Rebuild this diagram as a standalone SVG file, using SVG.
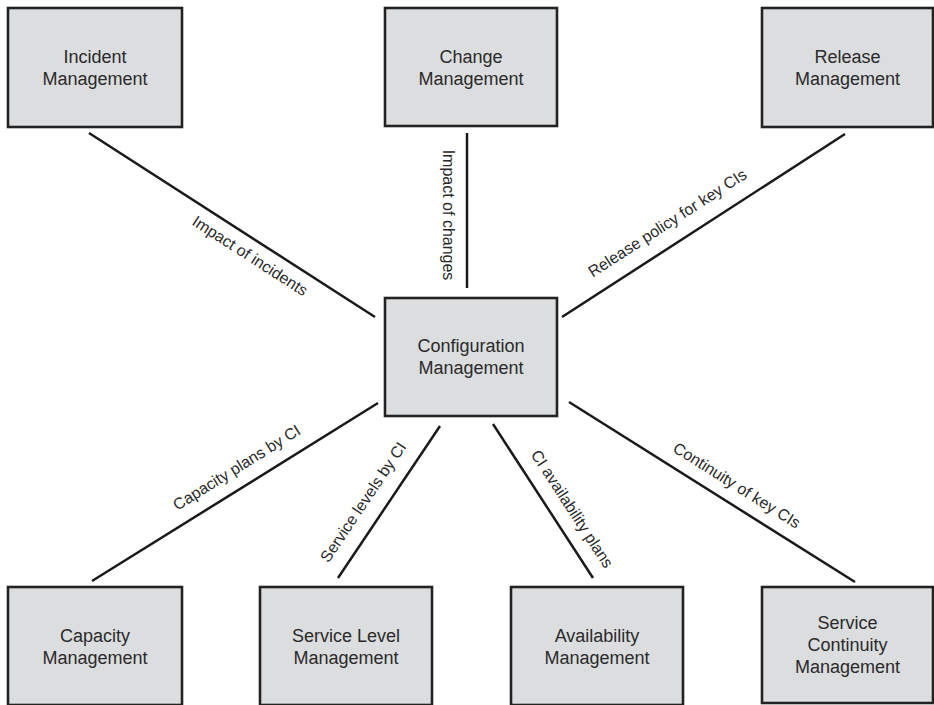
<svg xmlns="http://www.w3.org/2000/svg" width="934" height="705" viewBox="0 0 934 705">
<style>
.box{fill:#dcdddf;stroke:#222;stroke-width:2.6}
.t{font-family:"Liberation Sans",Arial,sans-serif;font-size:18px;fill:#2a2a2a;text-anchor:middle}
.c{stroke:#1a1a1a;stroke-width:2.5;fill:none}
.l{font-family:"Liberation Sans",Arial,sans-serif;font-size:16px;fill:#2a2a2a;text-anchor:middle}
</style>
<rect width="934" height="705" fill="#fff"/>
<g id="connectors">
<line class="c" x1="89" y1="133" x2="375" y2="317"/>
<line class="c" x1="467" y1="133" x2="467" y2="288"/>
<line class="c" x1="845" y1="134" x2="562" y2="317"/>
<line class="c" x1="378" y1="403" x2="92" y2="581"/>
<line class="c" x1="440" y1="426" x2="338" y2="578"/>
<line class="c" x1="493" y1="424" x2="593" y2="578"/>
<line class="c" x1="569" y1="402" x2="855" y2="582"/>
<text class="l" transform="translate(259,242) rotate(32.8)" y="22">Impact of incidents</text>
<text class="l" transform="translate(467,215) rotate(90)" y="24">Impact of changes</text>
<text class="l" transform="translate(679,241) rotate(-32.9)" y="-16">Release policy for key CIs</text>
<text class="l" transform="translate(247,484) rotate(-31.9)" y="-14">Capacity plans by CI</text>
<text class="l" transform="translate(381,514) rotate(-56.1)" y="-16">Service levels by CI</text>
<text class="l" transform="translate(555,520) rotate(57)" y="-15">CI availability plans</text>
<text class="l" transform="translate(727,501) rotate(32.2)" y="-13">Continuity of key CIs</text>
</g>
<g id="incident">
<rect class="box" x="8" y="8" width="174" height="119"/>
<text class="t" x="95" y="62.5">Incident</text>
<text class="t" x="95" y="84.5">Management</text>
</g>
<g id="change">
<rect class="box" x="385" y="8" width="172" height="118"/>
<text class="t" x="471" y="62.5">Change</text>
<text class="t" x="471" y="84.5">Management</text>
</g>
<g id="release">
<rect class="box" x="762" y="8" width="171" height="119"/>
<text class="t" x="847.5" y="62.5">Release</text>
<text class="t" x="847.5" y="84.5">Management</text>
</g>
<g id="configuration">
<rect class="box" x="385" y="298" width="172" height="118"/>
<text class="t" x="471" y="352">Configuration</text>
<text class="t" x="471" y="374">Management</text>
</g>
<g id="capacity">
<rect class="box" x="8" y="587" width="174" height="118"/>
<text class="t" x="95" y="642">Capacity</text>
<text class="t" x="95" y="664">Management</text>
</g>
<g id="service-level">
<rect class="box" x="260" y="587" width="172" height="118"/>
<text class="t" x="346" y="642">Service Level</text>
<text class="t" x="346" y="664">Management</text>
</g>
<g id="availability">
<rect class="box" x="511" y="587" width="172" height="118"/>
<text class="t" x="597" y="642">Availability</text>
<text class="t" x="597" y="664">Management</text>
</g>
<g id="service-continuity">
<rect class="box" x="762" y="587" width="171" height="116"/>
<text class="t" x="847.5" y="629">Service</text>
<text class="t" x="847.5" y="651">Continuity</text>
<text class="t" x="847.5" y="673">Management</text>
</g>
</svg>
